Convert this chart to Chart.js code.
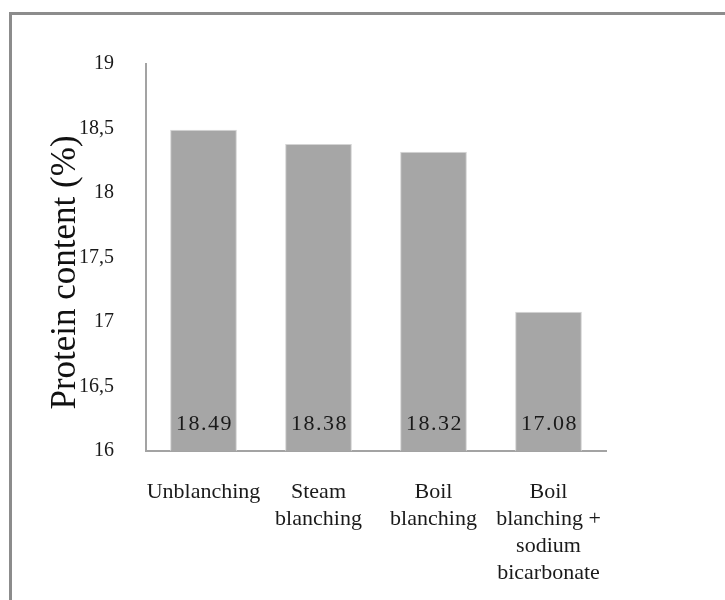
<!DOCTYPE html>
<html>
<head>
<meta charset="utf-8">
<script src="https://cdn.jsdelivr.net/npm/chart.js@4/dist/chart.umd.min.js"></script>
<style>
  html, body { margin: 0; padding: 0; background: #fff; overflow: hidden; }
  #wrap { position: relative; width: 725px; height: 600px; overflow: hidden; }
  #frame { position: absolute; left: 9px; top: 12px; width: 800px; height: 700px;
           border-left: 3px solid #8c8c8c; border-top: 3px solid #8c8c8c; box-sizing: border-box; }
  #c { position: absolute; left: 0; top: 0; }
</style>
</head>
<body>
<div id="wrap">
  <div id="frame"></div>
  <canvas id="c" width="725" height="600"></canvas>
</div>
<script>
// Blanching treatments and their protein content (%)
const categories = [
  ['Unblanching'],
  ['Steam', 'blanching'],
  ['Boil', 'blanching'],
  ['Boil', 'blanching +', 'sodium', 'bicarbonate']
];
const proteinValues = [18.49, 18.38, 18.32, 17.08];
const yTickValues = [16, 16.5, 17, 17.5, 18, 18.5, 19];
const yTickLabels = ['16', '16,5', '17', '17,5', '18', '18,5', '19'];
const yAxisTitle = 'Protein content (%)';

const serif = '"Liberation Serif", "Times New Roman", serif';

// Value printed inside each bar, near its base
const valueLabels = {
  id: 'valueLabels',
  afterDatasetsDraw(chart) {
    const ctx = chart.ctx;
    const meta = chart.getDatasetMeta(0);
    const base = chart.scales.y.bottom;
    ctx.save();
    ctx.font = '22px ' + serif;
    if ('letterSpacing' in ctx) ctx.letterSpacing = '1.5px';
    ctx.fillStyle = '#1a1a1a';
    ctx.textAlign = 'center';
    ctx.textBaseline = 'middle';
    meta.data.forEach((bar, i) => {
      ctx.fillText(proteinValues[i].toFixed(2), bar.x + 1, base - 27);
    });
    ctx.restore();
  }
};

// Rotated y-axis title, set close to the tick labels
const sideTitle = {
  id: 'sideTitle',
  afterDraw(chart) {
    const ctx = chart.ctx;
    const area = chart.chartArea;
    ctx.save();
    ctx.translate(66, (area.top + area.bottom) / 2 + 15);
    ctx.rotate(-Math.PI / 2);
    ctx.font = '35px ' + serif;
    ctx.fillStyle = '#111';
    ctx.textAlign = 'center';
    ctx.textBaseline = 'middle';
    ctx.fillText(yAxisTitle, 0, 0);
    ctx.restore();
  }
};

new Chart(document.getElementById('c'), {
  type: 'bar',
  data: {
    labels: categories,
    datasets: [{
      data: proteinValues,
      backgroundColor: '#a6a6a6',
      borderColor: '#d4d4d4',
      borderWidth: 1,
      categoryPercentage: 1,
      barPercentage: 0.58
    }]
  },
  options: {
    responsive: false,
    animation: false,
    devicePixelRatio: 1,
    layout: { padding: { left: 0, right: 119, top: 64, bottom: 0 } },
    plugins: {
      legend: { display: false },
      tooltip: { enabled: false }
    },
    scales: {
      x: {
        grid: { display: false, drawTicks: false },
        border: { display: true, color: '#a3a3a3', width: 2 },
        ticks: {
          font: { family: serif, size: 22, lineHeight: 1.23 },
          color: '#1a1a1a',
          padding: 28,
          maxRotation: 0,
          autoSkip: false
        },
        afterFit(scale) { scale.height = 149; }
      },
      y: {
        min: 16,
        max: 19,
        afterBuildTicks(scale) {
          scale.ticks = yTickValues.map(v => ({ value: v }));
        },
        grid: { display: false, drawTicks: false },
        border: { display: true, color: '#a3a3a3', width: 2 },
        ticks: {
          font: { family: serif, size: 20 },
          color: '#1a1a1a',
          padding: 32,
          callback(value) {
            const i = yTickValues.indexOf(value);
            return i >= 0 ? yTickLabels[i] : '';
          }
        },
        afterFit(scale) { scale.width = 146; }
      }
    }
  },
  plugins: [valueLabels, sideTitle]
});
</script>
</body>
</html>
